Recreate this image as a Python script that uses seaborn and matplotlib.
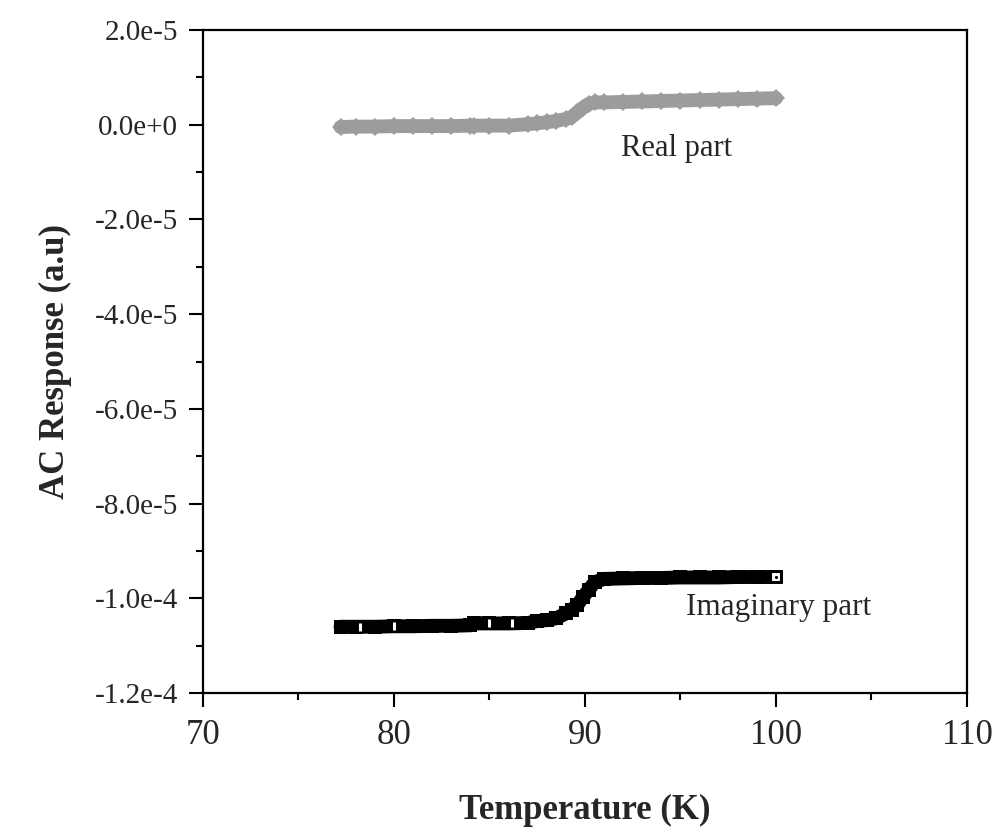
import numpy as np
import pandas as pd
import seaborn as sns
import matplotlib
matplotlib.use("Agg")
import matplotlib.pyplot as plt
from matplotlib.ticker import MultipleLocator

# temperature grid (K)
temperature = [77.2, 78, 79, 80, 81, 82, 83, 84, 84.2, 85, 86, 87, 87.5, 88, 88.5,
               89, 89.3, 89.6, 89.9, 90.2, 90.5, 91, 92, 93, 94, 95, 96, 97, 98, 99, 100]

# real part (x1e-6)
real_part = [-0.5, -0.4, -0.4, -0.3, -0.3, -0.3, -0.3, -0.2, -0.2, -0.2, -0.2, 0.1, 0.3, 0.5, 0.8,
             1.2, 1.6, 2.6, 3.6, 4.4, 4.7, 4.7, 4.8, 4.9, 5.0, 5.1, 5.2, 5.3, 5.4, 5.5, 5.6]

# imaginary part (x1e-4)
imag_part = [-1.060, -1.060, -1.060, -1.059, -1.059, -1.058, -1.058, -1.057, -1.053, -1.053,
             -1.053, -1.052, -1.048, -1.046, -1.042, -1.032, -1.024, -1.014, -0.997, -0.982,
             -0.966, -0.959, -0.958, -0.957, -0.957, -0.956, -0.956, -0.956, -0.955, -0.955, -0.955]

# odd white symbols sitting inside the imaginary band
mark_T = [78.2, 80.0, 85.0, 86.2]
mark_val = [-1.060, -1.059, -1.053, -1.053]
end_T = [100]
end_val = [-0.955]

yticks = [2.0e-5, 0.0, -2.0e-5, -4.0e-5, -6.0e-5, -8.0e-5, -1.0e-4, -1.2e-4]
ytick_labels = ["2.0e-5", "0.0e+0", "-2.0e-5", "-4.0e-5", "-6.0e-5", "-8.0e-5", "-1.0e-4", "-1.2e-4"]
xticks = [70, 80, 90, 100, 110]

df = pd.DataFrame({
    "T": temperature,
    "real": np.array(real_part) * 1e-6,
    "imag": np.array(imag_part) * 1e-4,
})

sns.set_style("ticks")
plt.rcParams['font.family'] = ['Liberation Serif', 'DejaVu Serif']

fig = plt.figure(figsize=(10.01, 8.32), dpi=100)
ax = fig.add_axes([0.2028, 0.167, 0.7632, 0.797])

# real part: grey band
sns.lineplot(data=df, x="T", y="real", ax=ax, color="#9c9c9c", linewidth=10,
             marker="D", markersize=9, markeredgewidth=0, sort=False, estimator=None)
# imaginary part: black band
sns.lineplot(data=df, x="T", y="imag", ax=ax, color="black", linewidth=10,
             marker="s", markersize=10, markeredgewidth=0, sort=False, estimator=None)
sns.scatterplot(x=mark_T, y=np.array(mark_val) * 1e-4, ax=ax, marker="|", color="white",
                s=40, linewidth=2.2, zorder=5)
sns.scatterplot(x=end_T, y=np.array(end_val) * 1e-4, ax=ax, marker="s", color="white",
                edgecolor="black", s=45, linewidth=1.5, zorder=5)
sns.scatterplot(x=end_T, y=np.array(end_val) * 1e-4, ax=ax, marker="o", color="black",
                s=5, linewidth=0, zorder=6)

ax.text(91.9, -6.6e-6, "Real part", fontsize=22, ha="left", va="baseline")
ax.text(95.3, -1.036e-4, "Imaginary part", fontsize=22.5, ha="left", va="baseline")

ax.set_xlim(70, 110)
ax.set_ylim(-1.2e-4, 2.0e-5)
ax.set_xticks(xticks)
ax.set_xticklabels([str(t) for t in xticks], fontsize=25)
ax.set_yticks(yticks)
ax.set_yticklabels(ytick_labels, fontsize=21)
ax.xaxis.set_minor_locator(MultipleLocator(5))
ax.yaxis.set_minor_locator(MultipleLocator(1e-5))
ax.tick_params(which="major", direction="out", length=10, width=1.5, color="black")
ax.tick_params(which="minor", direction="out", length=5, width=1.5, color="black")
ax.tick_params(axis="x", which="major", pad=9)
ax.tick_params(axis="y", which="major", pad=8)
for s in ax.spines.values():
    s.set_visible(True)
    s.set_linewidth(1.6)
    s.set_color("black")

ax.set_xlabel("Temperature (K)", fontsize=25, fontweight="bold", labelpad=30)
ax.set_ylabel("AC Response (a.u)", fontsize=25, fontweight="bold", labelpad=16)

plt.savefig("out.png", dpi=100)
